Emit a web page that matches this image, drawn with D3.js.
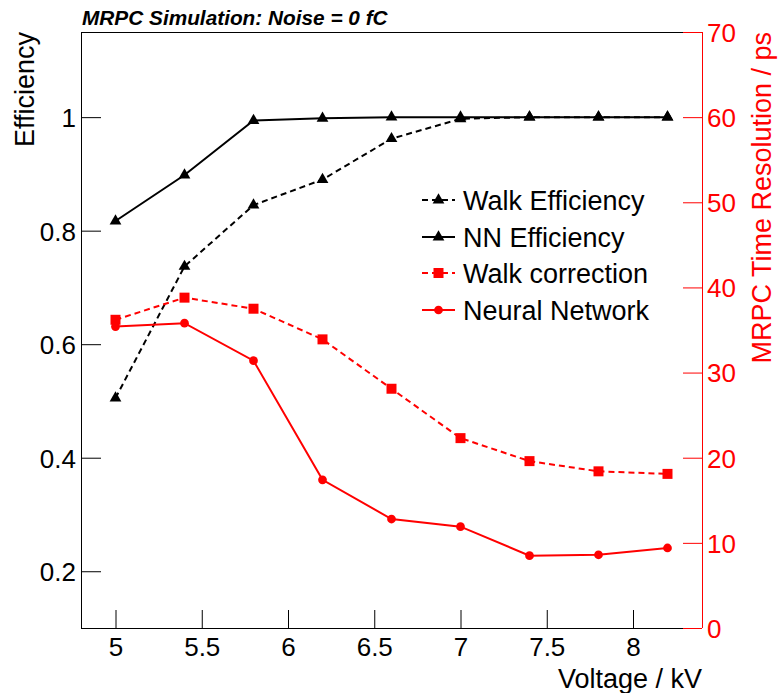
<!DOCTYPE html>
<html>
<head>
<meta charset="utf-8">
<script src="https://cdn.jsdelivr.net/npm/d3@7"></script>
<style>
  html, body { margin: 0; padding: 0; background: #fff; }
  svg { display: block; }
  text { font-family: "Liberation Sans", Arial, Helvetica, sans-serif; }
</style>
</head>
<body>
<svg id="chart" width="779" height="693"></svg>
<script>
// Operating voltage of the MRPC (kV)
const voltages = [5.0, 5.4, 5.8, 6.2, 6.6, 7.0, 7.4, 7.8, 8.2];

// Efficiencies (left axis)
const walkEfficiency = [0.505, 0.737, 0.845, 0.890, 0.962, 0.997, 1.0, 1.0, 1.0];
const nnEfficiency   = [0.817, 0.898, 0.994, 0.998, 1.0, 1.0, 1.0, 1.0, 1.0];

// Time resolution in ps (right axis)
const walkCorrection = [36.2, 38.8, 37.5, 33.9, 28.1, 22.3, 19.6, 18.4, 18.1];
const neuralNetwork  = [35.4, 35.8, 31.4, 17.4, 12.8, 11.9, 8.5, 8.6, 9.4];

// Axis ranges and tick labels
const xDomain = [4.8, 8.4];
const effDomain = [0.1, 1.15];
const resDomain = [0, 70];
const xTickLabels = [5, 5.5, 6, 6.5, 7, 7.5, 8];
const effTickLabels = [0.2, 0.4, 0.6, 0.8, 1];
const resTickLabels = [0, 10, 20, 30, 40, 50, 60, 70];

const legendLabels = ["Walk Efficiency", "NN Efficiency", "Walk correction", "Neural Network"];

const RED = "#ff0000";
const frame = { left: 81, right: 702, top: 32, bottom: 628 };
const svg = d3.select("#chart");

const x = d3.scaleLinear().domain(xDomain).range([frame.left, frame.right]);
const yEff = d3.scaleLinear().domain(effDomain).range([frame.bottom, frame.top]);
const yRes = d3.scaleLinear().domain(resDomain).range([frame.bottom, frame.top]);

const fmt = d => String(d);
const range = (a, b, step) => d3.range(Math.round(a / step), Math.round(b / step) + 1).map(i => +(i * step).toFixed(6));

// Top edge of the frame
svg.append("line").attr("x1", frame.left).attr("x2", frame.right)
  .attr("y1", frame.top + 0.5).attr("y2", frame.top + 0.5)
  .attr("stroke", "#000").attr("stroke-width", 1);

// Bottom axis: minor ticks, then major ticks with labels
const xAxisG = svg.append("g").attr("transform", `translate(0,${frame.bottom})`);
xAxisG.call(d3.axisTop(x).tickValues(range(4.8, 8.4, 0.1)).tickSize(10).tickFormat(""))
  .call(g => g.select(".domain").remove());
xAxisG.call(d3.axisTop(x).tickValues(xTickLabels).tickSize(18).tickFormat(""))
  .call(g => g.select(".domain").remove());
xAxisG.selectAll("line").attr("stroke", "#000").attr("stroke-width", 1);
xAxisG.append("line").attr("x1", frame.left).attr("x2", frame.right)
  .attr("y1", 0.5).attr("y2", 0.5).attr("stroke", "#000");
const xLab = svg.append("g").attr("transform", `translate(0,${frame.bottom})`)
  .call(d3.axisBottom(x).tickValues(xTickLabels).tickSize(0).tickPadding(0).tickFormat(fmt));
xLab.select(".domain").remove();
xLab.selectAll("text").attr("font-size", 26).attr("fill", "#000").attr("dy", null).attr("y", 28);

// Left axis (efficiency)
const yAxisG = svg.append("g").attr("transform", `translate(${frame.left},0)`);
yAxisG.call(d3.axisRight(yEff).tickValues(range(0.1, 1.15, 0.05)).tickSize(10).tickFormat(""))
  .call(g => g.select(".domain").remove());
yAxisG.call(d3.axisRight(yEff).tickValues(effTickLabels).tickSize(20).tickFormat(""))
  .call(g => g.select(".domain").remove());
yAxisG.selectAll("line").attr("stroke", "#000");
yAxisG.append("line").attr("x1", 0.5).attr("x2", 0.5)
  .attr("y1", frame.top).attr("y2", frame.bottom).attr("stroke", "#000");
const yLab = svg.append("g").attr("transform", `translate(${frame.left},0)`)
  .call(d3.axisLeft(yEff).tickValues(effTickLabels).tickSize(0).tickPadding(5).tickFormat(fmt));
yLab.select(".domain").remove();
yLab.selectAll("text").attr("font-size", 26).attr("fill", "#000").attr("dy", "0.36em");

// Right axis (time resolution), red
const rAxisG = svg.append("g").attr("transform", `translate(${frame.right},0)`);
rAxisG.call(d3.axisLeft(yRes).tickValues(range(0, 70, 2)).tickSize(9).tickFormat(""))
  .call(g => g.select(".domain").remove());
rAxisG.call(d3.axisLeft(yRes).tickValues(resTickLabels).tickSize(19).tickFormat(""))
  .call(g => g.select(".domain").remove());
rAxisG.selectAll("line").attr("stroke", RED);
rAxisG.append("line").attr("x1", 0.5).attr("x2", 0.5)
  .attr("y1", frame.top).attr("y2", frame.bottom).attr("stroke", RED);
const rLab = svg.append("g").attr("transform", `translate(${frame.right},0)`)
  .call(d3.axisRight(yRes).tickValues(resTickLabels).tickSize(0).tickPadding(5).tickFormat(fmt));
rLab.select(".domain").remove();
rLab.selectAll("text").attr("font-size", 26).attr("fill", RED).attr("dy", "0.36em");

// Axis titles
svg.append("text").attr("transform", `translate(34,${frame.top}) rotate(-90)`)
  .attr("text-anchor", "end").attr("font-size", 27).attr("fill", "#000").text("Efficiency");
svg.append("text").attr("transform", `translate(771,${frame.top}) rotate(-90)`)
  .attr("text-anchor", "end").attr("font-size", 27).attr("fill", RED).text("MRPC Time Resolution / ps");
svg.append("text").attr("x", frame.right).attr("y", 688)
  .attr("text-anchor", "end").attr("font-size", 27).attr("fill", "#000").text("Voltage / kV");

// Title
svg.append("text").attr("x", 82).attr("y", 25)
  .attr("font-size", 20.8).attr("font-weight", "bold").attr("font-style", "italic")
  .attr("fill", "#000").text("MRPC Simulation: Noise = 0 fC");

// Series definitions
const triangle = d3.symbol().type(d3.symbolTriangle).size(60);
const square = d3.symbol().type(d3.symbolSquare).size(100);
const circle = d3.symbol().type(d3.symbolCircle).size(60);

const series = [
  { values: walkEfficiency, y: yEff, color: "#000", dash: "6,4", marker: triangle },
  { values: nnEfficiency,   y: yEff, color: "#000", dash: null,  marker: triangle },
  { values: walkCorrection, y: yRes, color: RED,    dash: "6,4", marker: square },
  { values: neuralNetwork,  y: yRes, color: RED,    dash: null,  marker: circle }
];

series.forEach(s => {
  const line = d3.line().x((d, i) => x(voltages[i])).y(d => s.y(d));
  svg.append("path").datum(s.values).attr("d", line)
    .attr("fill", "none").attr("stroke", s.color).attr("stroke-width", 2)
    .attr("stroke-dasharray", s.dash);
  svg.append("g").selectAll("path").data(s.values).join("path")
    .attr("transform", (d, i) => `translate(${x(voltages[i])},${s.y(d)})`)
    .attr("d", s.marker()).attr("fill", s.color);
});

// Legend
const legend = svg.append("g");
const rowY = [200, 237, 273, 310];
series.forEach((s, i) => {
  const g = legend.append("g").attr("transform", `translate(0,${rowY[i]})`);
  g.append("line").attr("x1", 422).attr("x2", 455).attr("y1", 0).attr("y2", 0)
    .attr("stroke", s.color).attr("stroke-width", 2).attr("stroke-dasharray", s.dash);
  g.append("path").attr("transform", "translate(438.5,0)").attr("d", s.marker()).attr("fill", s.color);
  g.append("text").attr("x", 463).attr("y", 0).attr("dy", "0.36em")
    .attr("font-size", 27).attr("fill", "#000").text(legendLabels[i]);
});
</script>
</body>
</html>
